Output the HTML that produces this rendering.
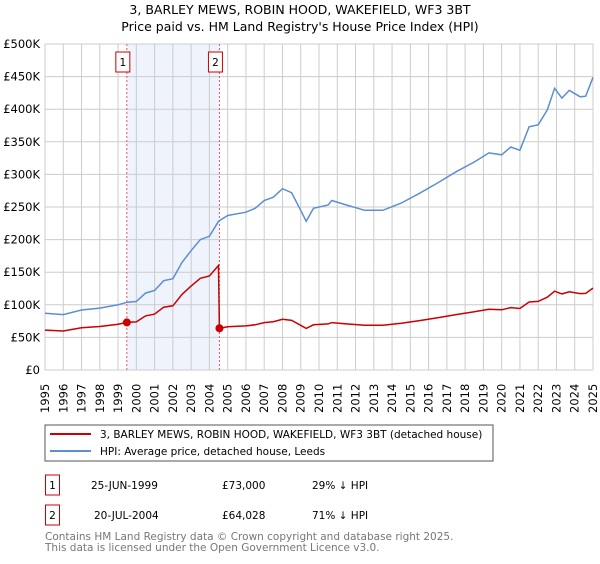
<!DOCTYPE html>
<html><head><meta charset="utf-8"><style>
body{margin:0;background:#fff;font-family:"DejaVu Sans","Liberation Sans",sans-serif;}
svg text{font-family:"DejaVu Sans","Liberation Sans",sans-serif;}
</style></head><body>
<svg width="600" height="560" xmlns="http://www.w3.org/2000/svg">
<text x="300" y="14" text-anchor="middle" font-size="12.5" fill="#000">3, BARLEY MEWS, ROBIN HOOD, WAKEFIELD, WF3 3BT</text>
<text x="300" y="31" text-anchor="middle" font-size="12.5" fill="#000">Price paid vs. HM Land Registry's House Price Index (HPI)</text>
<g id="plot"></g>
<rect x="45" y="425" width="448" height="36" fill="#fff" stroke="#555"/>
<line x1="50" y1="434" x2="91" y2="434" stroke="#cc0000" stroke-width="2"/>
<text x="100" y="438" font-size="10.5">3, BARLEY MEWS, ROBIN HOOD, WAKEFIELD, WF3 3BT (detached house)</text>
<line x1="50" y1="451" x2="91" y2="451" stroke="#5b8fd4" stroke-width="2"/>
<text x="100" y="455" font-size="10.5">HPI: Average price, detached house, Leeds</text>
<rect x="45.5" y="475" width="14" height="20" fill="#fff" stroke="#cc0000"/>
<text x="52.5" y="489" font-size="10.5" text-anchor="middle">1</text>
<text x="91" y="489" font-size="10.5">25-JUN-1999</text>
<text x="222" y="489" font-size="10.5">£73,000</text>
<text x="312" y="489" font-size="10.5">29% ↓ HPI</text>
<rect x="45.5" y="505" width="14" height="20" fill="#fff" stroke="#cc0000"/>
<text x="52.5" y="519" font-size="10.5" text-anchor="middle">2</text>
<text x="94" y="519" font-size="10.5">20-JUL-2004</text>
<text x="222" y="519" font-size="10.5">£64,028</text>
<text x="312" y="519" font-size="10.5">71% ↓ HPI</text>
<text x="45" y="540" font-size="10.5" fill="#777">Contains HM Land Registry data © Crown copyright and database right 2025.</text>
<text x="45" y="551" font-size="10.5" fill="#777">This data is licensed under the Open Government Licence v3.0.</text>
</svg>
<script>
const hpiYears=[1995,1996,1997,1998,1999,1999.5,2000,2000.5,2001,2001.5,2002,2002.5,2003,2003.5,2004,2004.5,2005,2006,2006.5,2007,2007.5,2008,2008.5,2009,2009.3,2009.7,2010.5,2010.7,2011.5,2012.5,2013.5,2014.5,2015.5,2016.5,2017.5,2018.5,2019.3,2020,2020.5,2021,2021.5,2022,2022.5,2022.9,2023.3,2023.7,2024.3,2024.6,2025];
const hpiValues=[87,85,92,95,100,104,105,118,122,137,140,165,183,200,205,228,237,242,248,260,265,278,272,245,228,248,253,260,253,245,245,256,271,287,304,319,333,330,342,337,373,376,399,432,417,429,419,420,449];
const saleYears=[1999.48,2004.55];
const salePrices=[73,64.028];
const yTicks=[0,50,100,150,200,250,300,350,400,450,500];
const xTicks=[1995,1996,1997,1998,1999,2000,2001,2002,2003,2004,2005,2006,2007,2008,2009,2010,2011,2012,2013,2014,2015,2016,2017,2018,2019,2020,2021,2022,2023,2024,2025];
const NS="http://www.w3.org/2000/svg";
const X0=45,X1=593,Y0=370,Y1=44;
const sx=y=>X0+(y-1995)/30*(X1-X0);
const sy=v=>Y0-v/500*(Y0-Y1);
const g=document.getElementById('plot');
function mk(t,a){const e=document.createElementNS(NS,t);for(const k in a)e.setAttribute(k,a[k]);g.appendChild(e);return e;}
function hpiAt(t){for(let i=0;i<hpiYears.length-1;i++){if(t<=hpiYears[i+1]){const f=(t-hpiYears[i])/(hpiYears[i+1]-hpiYears[i]);return hpiValues[i]+f*(hpiValues[i+1]-hpiValues[i]);}}return hpiValues[hpiValues.length-1];}
const shade=mk('rect',{x:sx(saleYears[0]),y:Y1,width:sx(saleYears[1])-sx(saleYears[0]),height:Y0-Y1,fill:'#eef3fc'});


xTicks.forEach(t=>{const l=mk('line',{x1:sx(t),y1:Y1,x2:sx(t),y2:Y0,stroke:'#ccc'});


const tx=mk('text',{x:0,y:0,'font-size':'11.5',transform:`translate(${sx(t)+4},${413}) rotate(-90)`});tx.textContent=t;

});
yTicks.forEach(t=>{const l=mk('line',{x1:X0,y1:sy(t),x2:X1,y2:sy(t),stroke:'#ccc'});


const tx=mk('text',{x:40,y:sy(t)+4,'font-size':'11.5','text-anchor':'end'});tx.textContent=t===0?'£0':'£'+t+'K';

});
saleYears.forEach((s,i)=>{const l=mk('line',{x1:sx(s),y1:Y1,x2:sx(s),y2:Y0,stroke:'#e55','stroke-dasharray':'2,2'});


const b=mk('rect',{x:sx(s)-11,y:52,width:14,height:20,fill:'#fff',stroke:'#cc0000'});


const t=mk('text',{x:sx(s)-4,y:66,'font-size':'10.5','text-anchor':'middle'});t.textContent=i+1;});
let hp='';hpiYears.forEach((y,i)=>{hp+=(i?'L':'M')+sx(y).toFixed(1)+','+sy(hpiValues[i]).toFixed(1);});
const hl=mk('path',{d:hp,fill:'none',stroke:'#5b8fd4','stroke-width':1.5});


// property line: indexed from each sale
const pts=[];const r1=salePrices[0]/hpiAt(saleYears[0]);const r2=salePrices[1]/hpiAt(saleYears[1]);
hpiYears.forEach((y,i)=>{if(y<saleYears[1])pts.push([y,hpiValues[i]*(y<saleYears[0]?r1:r1)]);});
pts.push([saleYears[1]-0.05,hpiAt(saleYears[1]-0.05)*r1]);
pts.push([saleYears[1],salePrices[1]]);
hpiYears.forEach((y,i)=>{if(y>saleYears[1])pts.push([y,hpiValues[i]*r2]);});
const rl=mk('path',{d:pts.map((p,i)=>(i?'L':'M')+sx(p[0]).toFixed(1)+','+sy(p[1]).toFixed(1)).join(''),fill:'none',stroke:'#cc0000','stroke-width':1.5});


saleYears.forEach((s,i)=>{const c=mk('circle',{cx:sx(s),cy:sy(salePrices[i]),r:4,fill:'#cc0000'});

});
</script>
</body></html>
